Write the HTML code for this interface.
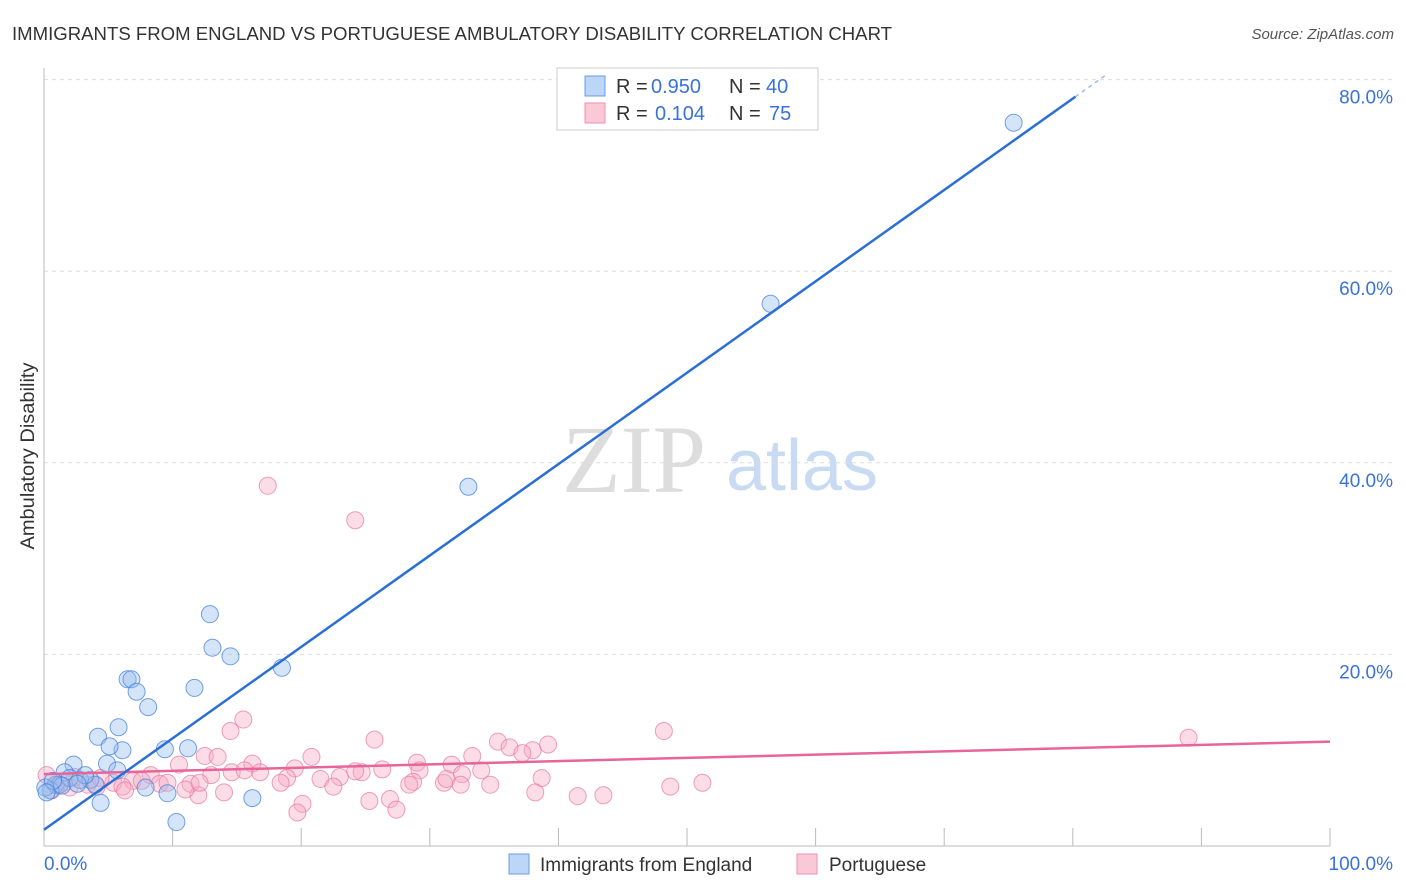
<!DOCTYPE html>
<html><head><meta charset="utf-8"><style>
body{margin:0;background:#fff;font-family:"Liberation Sans",sans-serif;}
#wrap{position:relative;width:1406px;height:892px;overflow:hidden;}
</style></head><body>
<div id="wrap">
<svg id="svg" width="1406" height="892" xmlns="http://www.w3.org/2000/svg">
<text x="12" y="40" font-size="18" fill="#333" textLength="880" lengthAdjust="spacingAndGlyphs">IMMIGRANTS FROM ENGLAND VS PORTUGUESE AMBULATORY DISABILITY CORRELATION CHART</text>
<text x="1394" y="39" font-size="15" fill="#555" font-style="italic" text-anchor="end">Source: ZipAtlas.com</text>
<text x="634" y="492" font-size="96" fill="#ddd" font-family="Liberation Serif,serif" text-anchor="middle">ZIP</text>
<text x="802" y="490" font-size="72" fill="#c9daf3" text-anchor="middle">atlas</text>
<text transform="translate(34,456) rotate(-90)" font-size="19" fill="#333" text-anchor="middle" textLength="187" lengthAdjust="spacingAndGlyphs">Ambulatory Disability</text>
<g id="grid"></g><g id="pink"></g><g id="blue"></g><g id="lines"></g>
<g>
<rect x="557" y="68" width="261" height="62" fill="#fff" stroke="#ccc"/>
<rect x="585" y="76" width="20" height="20" fill="#bcd6f7" stroke="#6a9be0"/>
<rect x="585" y="103" width="20" height="20" fill="#fbc8d8" stroke="#ec8fae"/>
<text y="93" font-size="20" fill="#333"><tspan x="616">R =</tspan><tspan x="651" fill="#3a72d8">0.950</tspan><tspan x="729">N =</tspan><tspan x="766" fill="#3a72d8">40</tspan></text>
<text y="120" font-size="20" fill="#333"><tspan x="616">R =</tspan><tspan x="655" fill="#3a72d8">0.104</tspan><tspan x="729">N =</tspan><tspan x="769" fill="#3a72d8">75</tspan></text>
</g>
<g>
<rect x="509" y="854" width="20" height="20" fill="#bcd6f7" stroke="#6a9be0"/>
<text x="540" y="871" font-size="19" fill="#333">Immigrants from England</text>
<rect x="797" y="854" width="20" height="20" fill="#fbc8d8" stroke="#ec8fae"/>
<text x="829" y="871" font-size="19" fill="#333">Portuguese</text>
</g>
</svg>
</div>
<script>
const yTicks=[20,40,60,80];
const yTickLabels=["20.0%","40.0%","60.0%","80.0%"];
const xTickVals=[10,20,30,40,50,60,70,80,90,100];
const englandX=[75.4,56.5,33.0,12.9,13.1,14.5,18.5,6.5,6.8,7.2,11.7,8.1,5.8,4.2,9.4,11.2,6.1,5.1,4.9,2.3,1.6,0.9,1.2,2.8,3.6,4.0,7.9,9.6,16.2,4.4,10.3,0.5,2.0,3.2,5.7,0.1,1.4,2.6,0.7,0.2];
const englandY=[75.5,56.6,37.5,24.2,20.7,19.8,18.6,17.4,17.4,16.1,16.5,14.5,12.4,11.4,10.1,10.2,10.0,10.4,8.6,8.5,7.7,6.4,6.4,6.9,6.9,6.4,6.1,5.5,5.0,4.5,2.5,5.8,7.1,7.4,7.9,6.1,6.3,6.5,6.8,5.6];
const portX=[17.4,24.2,89.0,48.2,15.5,14.5,25.7,35.3,36.2,38.0,39.2,37.2,33.3,20.8,12.5,13.5,10.5,16.2,29.0,31.7,19.5,26.3,29.2,32.5,34.0,13.0,14.6,16.8,24.7,8.3,6.9,21.5,23.0,18.9,38.7,11.4,9.0,5.4,3.4,2.0,1.0,0.2,0.6,4.1,6.1,18.4,22.5,28.7,31.1,31.3,34.7,32.4,28.4,48.7,51.2,38.2,41.5,43.5,12.0,14.0,6.3,25.3,26.9,20.1,19.7,27.4,11.0,9.6,7.6,4.4,2.4,1.6,15.6,24.2,12.1];
const portY=[37.6,34.0,11.3,12.0,13.2,12.0,11.1,10.9,10.3,10.0,10.6,9.7,9.4,9.3,9.4,9.3,8.5,8.6,8.7,8.5,8.1,8.0,7.9,7.5,7.9,7.4,7.7,7.7,7.7,7.4,6.8,7.0,7.2,7.1,7.1,6.5,6.5,6.6,6.4,6.1,6.3,7.4,5.8,6.2,6.2,6.6,6.2,6.7,6.6,7.0,6.4,6.4,6.4,6.2,6.6,5.6,5.2,5.3,5.3,5.6,5.8,4.7,4.9,4.4,3.5,3.8,5.9,6.6,6.8,7.1,7.2,6.7,7.9,7.8,6.6];
const englandTrend=[1.7,0.954];
const portTrend=[7.5,0.034];
const X=v=>44+v*12.86, Y=v=>846-v*9.58;
const NS="http://www.w3.org/2000/svg";
function mk(t,a,p){const e=document.createElementNS(NS,t);for(const k in a)e.setAttribute(k,a[k]);p.appendChild(e);return e;}
const grid=document.getElementById('grid');
yTicks.forEach((t,i)=>{
 const l=mk('line',{x1:44,x2:1394,y1:Y(t),y2:Y(t),stroke:'#ddd','stroke-dasharray':'4,4'},grid);
 
 
 const tx=mk('text',{x:1393,y:Y(t)+24,'font-size':19,fill:'#3a72d8','text-anchor':'end'},grid);
 tx.textContent=yTickLabels[i];
 
 
});
const ax=mk('line',{x1:44,x2:44,y1:68,y2:846,stroke:'#bbb'},grid);


const bx=mk('line',{x1:44,x2:1330,y1:846,y2:846,stroke:'#bbb'},grid);


xTickVals.forEach(v=>{const t=mk('line',{x1:X(v),x2:X(v),y1:828,y2:846,stroke:'#bbb'},grid);
 
 });
const x0=mk('text',{x:44,y:870,'font-size':19,fill:'#3a72d8'},grid);x0.textContent='0.0%';


const x1=mk('text',{x:1393,y:870,'font-size':19,fill:'#3a72d8','text-anchor':'end'},grid);x1.textContent='100.0%';


const pg=document.getElementById('pink');
portX.forEach((v,i)=>{const c=mk('circle',{cx:X(v),cy:Y(portY[i]),r:8.5,fill:'rgba(248,170,195,0.4)',stroke:'rgba(232,120,160,0.7)','stroke-width':1},pg);
 
 });
const bg=document.getElementById('blue');
englandX.forEach((v,i)=>{const c=mk('circle',{cx:X(v),cy:Y(englandY[i]),r:8.5,fill:'rgba(150,190,240,0.4)',stroke:'rgba(70,130,220,0.75)','stroke-width':1},bg);
 
 });
const lg=document.getElementById('lines');
const f=(t,x)=>t[0]+t[1]*x;
const pl=mk('line',{x1:X(0),y1:Y(f(portTrend,0)),x2:X(100),y2:Y(f(portTrend,100)),stroke:'#e8659a','stroke-width':2.5},lg);


const bl=mk('line',{x1:X(0),y1:Y(f(englandTrend,0)),x2:X(80.2),y2:Y(f(englandTrend,80.2)),stroke:'#2a6fd6','stroke-width':2.5},lg);


const bd=mk('line',{x1:X(80.2),y1:Y(f(englandTrend,80.2)),x2:X(82.5),y2:Y(f(englandTrend,82.5)),stroke:'#9bbbe8','stroke-width':1.5,'stroke-dasharray':'4,4'},lg);


</script>
</body></html>
